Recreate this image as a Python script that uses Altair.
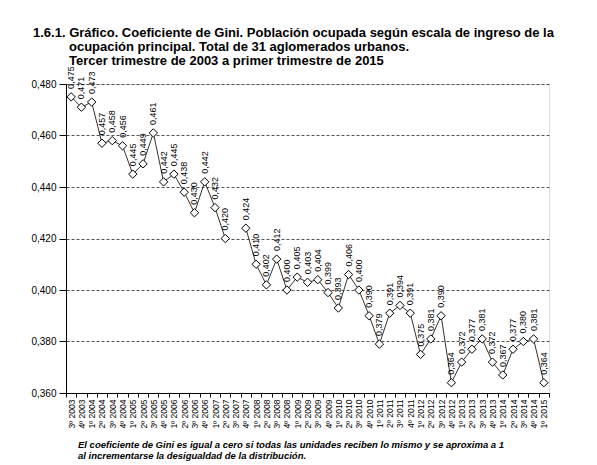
import altair as alt
import pandas as pd

FONT = "Liberation Sans"

periodos = [
    "3º 2003", "4º 2003",
    "1º 2004", "2º 2004", "3º 2004", "4º 2004",
    "1º 2005", "2º 2005", "3º 2005", "4º 2005",
    "1º 2006", "2º 2006", "3º 2006", "4º 2006",
    "1º 2007", "2º 2007", "3º 2007", "4º 2007",
    "1º 2008", "2º 2008", "3º 2008", "4º 2008",
    "1º 2009", "2º 2009", "3º 2009", "4º 2009",
    "1º 2010", "2º 2010", "3º 2010", "4º 2010",
    "1º 2011", "2º 2011", "3º 2011", "4º 2011",
    "1º 2012", "2º 2012", "3º 2012", "4º 2012",
    "1º 2013", "2º 2013", "3º 2013", "4º 2013",
    "1º 2014", "2º 2014", "3º 2014", "4º 2014",
    "1º 2015",
]

gini = [
    0.475, 0.471,
    0.473, 0.457, 0.458, 0.456,
    0.445, 0.449, 0.461, 0.442,
    0.445, 0.438, 0.430, 0.442,
    0.432, 0.420, None, 0.424,
    0.410, 0.402, 0.412, 0.400,
    0.405, 0.403, 0.404, 0.399,
    0.393, 0.406, 0.400, 0.390,
    0.379, 0.391, 0.394, 0.391,
    0.375, 0.381, 0.390, 0.364,
    0.372, 0.377, 0.381, 0.372,
    0.367, 0.377, 0.380, 0.381,
    0.364,
]

y_ticks = [0.36, 0.38, 0.40, 0.42, 0.44, 0.46, 0.48]

titulo = [
    "1.6.1. Gráfico. Coeficiente de Gini. Población ocupada según escala de ingreso de la",
    "ocupación principal. Total de 31 aglomerados urbanos.",
    "Tercer trimestre de 2003 a primer trimestre de 2015",
]
nota = [
    "El coeficiente de Gini es igual a cero si todas las unidades reciben lo mismo y se aproxima a 1",
    "al incrementarse la desigualdad de la distribución.",
]

df = pd.DataFrame({"periodo": periodos, "gini": gini})

x = alt.X(
    "periodo:N",
    sort=periodos,
    scale=alt.Scale(type="band", paddingInner=0, paddingOuter=0),
    axis=alt.Axis(
        title=None,
        labelAngle=270,
        labelAlign="right",
        labelBaseline="middle",
        labelFontSize=8.5,
        labelFont=FONT,
        labelColor="black",
        labelPadding=2,
        tickBand="extent",
        tickSize=4,
        tickColor="black",
        domainColor="black",
        grid=False,
        labelOverlap=False,
    ),
)
y = alt.Y(
    "gini:Q",
    scale=alt.Scale(domain=[0.36, 0.48], zero=False, nice=False),
    axis=alt.Axis(
        title=None,
        values=y_ticks,
        labelExpr="replace(format(datum.value, '.3f'), '.', ',')",
        labelFontSize=10,
        labelFont=FONT,
        labelColor="black",
        labelPadding=3,
        tickSize=7,
        tickColor="black",
        domainColor="black",
        grid=True,
        gridDash=[3, 2],
        gridColor="#555555",
        gridWidth=1,
    ),
)

base = alt.Chart(df).encode(x=x, y=y)

line = base.mark_line(color="#333333", strokeWidth=1)
points = base.transform_filter("isValid(datum.gini)").mark_point(
    shape="diamond", filled=True, fill="white", stroke="black",
    strokeWidth=1, size=70, opacity=1,
)
labels = base.transform_filter("isValid(datum.gini)").transform_calculate(
    lab="replace(format(datum.gini, '.3f'), '.', ',')"
).mark_text(
    angle=270, align="left", baseline="middle", dx=8,
    fontSize=9, font=FONT, color="black",
).encode(text="lab:N")

def text_layer(t, xpos, ypos, size, weight="normal", style="normal"):
    return alt.Chart(alt.Data(values=[{"t": t}])).mark_text(
        align="left", baseline="alphabetic", fontSize=size, font=FONT,
        fontWeight=weight, fontStyle=style, color="black",
    ).encode(text="t:N", x=alt.value(xpos), y=alt.value(ypos))

title_layers = [
    text_layer(titulo[0], -33, -47, 13, weight="bold"),
    text_layer(titulo[1], 3, -33, 13, weight="bold"),
    text_layer(titulo[2], 3, -19, 13, weight="bold"),
]
note_layers = [
    text_layer(nota[0], 12, 364, 9.5, weight="bold", style="italic"),
    text_layer(nota[1], 12, 375, 9.5, weight="bold", style="italic"),
]

chart = alt.layer(line, points, labels, *title_layers, *note_layers).properties(
    width=483,
    height=309,
    autosize=alt.AutoSizeParams(type="none"),
    padding={"left": 58, "top": 76, "right": 40, "bottom": 72},
).configure_view(stroke=None).configure(background="white")

chart.save("out.html", embed_options={"renderer": "svg", "actions": False})
